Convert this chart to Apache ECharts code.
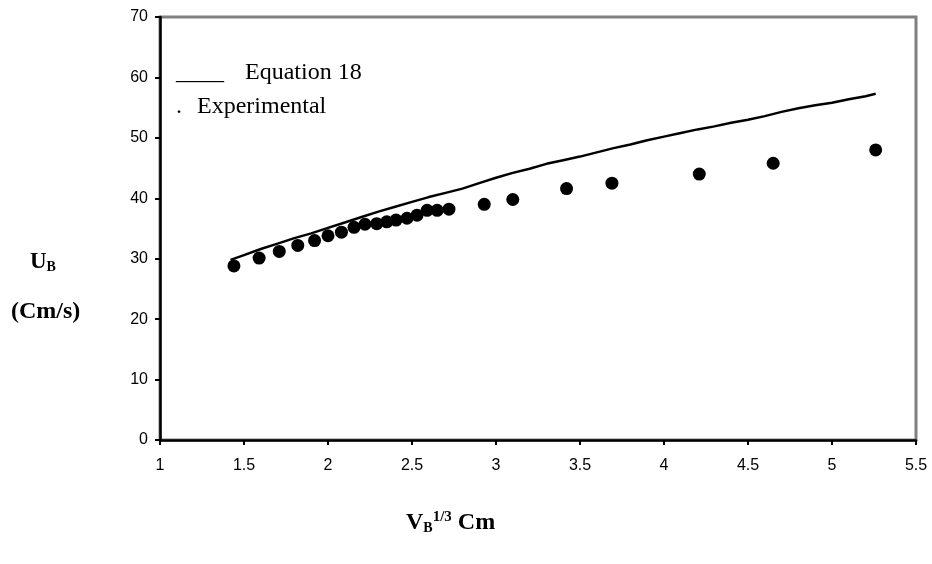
<!DOCTYPE html>
<html>
<head>
<meta charset="utf-8">
<script src="https://cdn.jsdelivr.net/npm/echarts@6/dist/echarts.min.js"></script>
<style>
  html, body { margin: 0; padding: 0; background: #fff; }
  #chart { width: 932px; height: 564px; }
</style>
</head>
<body>
<div id="chart"></div>
<script>
// experimental points (V_B^1/3, U_B)
var expX = [1.44, 1.59, 1.71, 1.82, 1.92, 2.0, 2.08, 2.155, 2.22, 2.29, 2.35, 2.405, 2.47, 2.53, 2.59, 2.65, 2.72, 2.93, 3.10, 3.42, 3.69, 4.21, 4.65, 5.26]
var expY = [28.8, 30.1, 31.2, 32.2, 33.0, 33.8, 34.4, 35.2, 35.7, 35.8, 36.1, 36.4, 36.7, 37.2, 38.0, 38.0, 38.2, 39.0, 39.8, 41.6, 42.5, 44.0, 45.8, 48.0]

// Equation 18 curve
var eqX = [1.42, 1.5, 1.6, 1.7, 1.8, 1.9, 2.0, 2.1, 2.2, 2.3, 2.4, 2.5, 2.6, 2.7, 2.8, 2.9, 3.0, 3.1, 3.2, 3.3, 3.4, 3.5, 3.6, 3.7, 3.8, 3.9, 4.0, 4.1, 4.2, 4.3, 4.4, 4.5, 4.6, 4.7, 4.8, 4.9, 5.0, 5.1, 5.2, 5.26]
var eqY = [29.8, 30.6, 31.6, 32.5, 33.4, 34.2, 35.1, 36.0, 36.9, 37.8, 38.6, 39.4, 40.2, 40.9, 41.6, 42.5, 43.4, 44.2, 44.9, 45.7, 46.3, 46.9, 47.6, 48.3, 48.9, 49.6, 50.2, 50.8, 51.4, 51.9, 52.5, 53.0, 53.6, 54.3, 54.9, 55.4, 55.8, 56.4, 56.9, 57.3]

var legendNames = ['Equation 18', 'Experimental']

function pairs(xs, ys){
    var out = []
    for(var i=0;i<xs.length;i++){
        out.push([xs[i], ys[i]])
    }
    return out
}

var serif = "'Liberation Serif', 'Times New Roman', serif"
var sans = "'Liberation Sans', Arial, sans-serif"

var option = {
    animation: false,
    backgroundColor: '#ffffff',
    grid: {
        left: 160, right: 16, top: 17, bottom: 124,
        show: true,
        borderColor: '#808080',
        borderWidth: 3
    },
    legend: {
        orient: 'vertical',
        left: 166,
        top: 56,
        itemWidth: 0,
        itemHeight: 0,
        itemGap: 10,
        icon: 'none',
        data: legendNames,
        formatter: function(name){
            if(name == 'Equation 18') return '{a|____}{b|Equation 18}'
            return '{c|.}{b|Experimental}'
        },
        textStyle: {
            fontFamily: serif, fontSize: 24, color: '#000',
            rich: {
                a: { fontFamily: serif, fontSize: 24, width: 69 },
                b: { fontFamily: serif, fontSize: 24 },
                c: { fontFamily: serif, fontSize: 24, width: 21 }
            }
        }
    },
    xAxis: {
        type: 'value',
        min: 1, max: 5.5, interval: 0.5,
        splitLine: { show: false },
        axisLine: { lineStyle: { color: '#000', width: 2.5 } },
        axisTick: { length: 5, lineStyle: { color: '#000', width: 2 } },
        axisLabel: { color: '#000', fontFamily: sans, fontSize: 16, margin: 18 }
    },
    yAxis: {
        type: 'value',
        min: 0, max: 70, interval: 10,
        splitLine: { show: false },
        axisLine: { show: true, lineStyle: { color: '#000', width: 2.5 } },
        axisTick: { show: true, length: 5, lineStyle: { color: '#000', width: 2 } },
        axisLabel: { color: '#000', fontFamily: sans, fontSize: 16, margin: 12 }
    },
    graphic: [
        {
            type: 'text', left: 30, top: 251,
            style: {
                text: '{u|U}{s|B}',
                rich: {
                    u: { fontFamily: serif, fontWeight: 'bold', fontSize: 23, fill: '#000' },
                    s: { fontFamily: serif, fontWeight: 'bold', fontSize: 14, fill: '#000', padding: [10, 0, 0, 0] }
                }
            }
        },
        {
            type: 'text', left: 11, top: 300,
            style: { text: '(Cm/s)', font: 'bold 24px ' + serif, fill: '#000' }
        },
        {
            type: 'text', left: 406, top: 510,
            style: {
                text: '{u|V}{s|B}{p|1/3}{u| Cm}',
                rich: {
                    u: { fontFamily: serif, fontWeight: 'bold', fontSize: 24, fill: '#000' },
                    s: { fontFamily: serif, fontWeight: 'bold', fontSize: 14, fill: '#000', padding: [12, 0, 0, 0] },
                    p: { fontFamily: serif, fontWeight: 'bold', fontSize: 15, fill: '#000', padding: [0, 0, 10, 0] }
                }
            }
        }
    ],
    series: [
        {
            name: 'Equation 18',
            type: 'line',
            data: pairs(eqX, eqY),
            showSymbol: false,
            symbol: 'none',
            lineStyle: { color: '#000', width: 2.5 },
            z: 3
        },
        {
            name: 'Experimental',
            type: 'scatter',
            data: pairs(expX, expY),
            symbol: 'circle',
            symbolSize: 13,
            itemStyle: { color: '#000', opacity: 1 },
            z: 4
        }
    ]
}

var myChart = echarts.init(document.getElementById('chart'))
myChart.setOption(option)
</script>
</body>
</html>
